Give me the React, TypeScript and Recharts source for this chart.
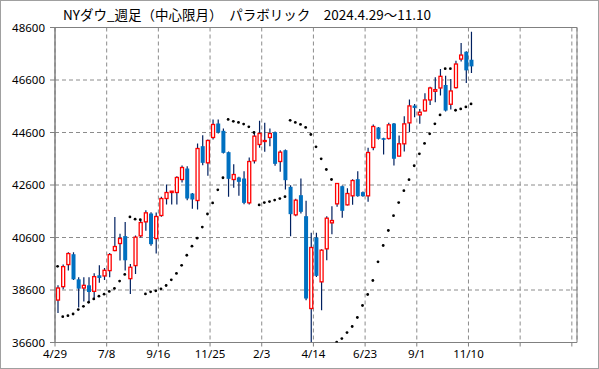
import React from 'react';
import { ComposedChart, Bar, Line, XAxis, YAxis, CartesianGrid, ReferenceArea } from 'recharts';

const opens = [
  38217, 38727, 39568, 39963, 39007, 38676, 38778, 38549, 39160, 39135,
  39339, 40103, 40370, 40653, 39033, 39530, 40663, 41196, 41514, 40561,
  41438, 42085, 42314, 42314, 42809, 43228, 42276, 42009, 44079, 43444,
  44410, 44943, 44664, 43851, 42809, 42886, 42847, 41920, 43521, 44143,
  44257, 44410, 44613, 43495, 43927, 42530, 41463, 42212, 41412, 37894,
  40600, 38910, 40168, 41158, 41882, 42555, 41844, 42187, 42822, 42327,
  42187, 44029, 44791, 44384, 44371, 44943, 43701, 44169, 44967, 45625,
  45271, 45423, 45840, 46170, 46296, 46410, 45676, 46309, 47398, 47676,
  47372,
];
const highs = [
  38778, 39568, 40039, 40039, 39084, 39084, 39084, 39237, 39542, 39440,
  40014, 41377, 40740, 41189, 39593, 40676, 41285, 41641, 41560, 41552,
  42149, 42619, 42365, 42937, 43343, 43317, 42300, 44181, 44498, 44330,
  45095, 45095, 44752, 43880, 43393, 42911, 43127, 43647, 44625, 45044,
  44968, 44752, 44640, 43927, 43952, 42593, 42073, 42847, 42000, 40777,
  40777, 40150, 41412, 41793, 42680, 42580, 42479, 42822, 43127, 42350,
  44016, 44905, 44810, 44400, 44968, 44960, 44486, 45220, 45853, 45688,
  45499, 46094, 46347, 46701, 47018, 46765, 46638, 47334, 48005, 47700,
  48436,
];
const lows = [
  37720, 38625, 39339, 38980, 37937, 38166, 38166, 38294, 38880, 38982,
  39084, 40077, 39721, 39339, 38447, 39211, 40599, 40854, 40282, 39990,
  41387, 41857, 41857, 41857, 42695, 42022, 41692, 41667, 43355, 42949,
  44333, 44562, 43800, 42149, 42492, 42187, 41870, 41857, 43419, 44016,
  43863, 44079, 43330, 43101, 42428, 40650, 41412, 41514, 38212, 36600,
  39100, 37831, 39736, 40727, 41768, 41349, 41819, 41844, 42150, 42150,
  41958, 43927, 44333, 43762, 44330, 43346, 43690, 43878, 44612, 45182,
  44929, 45397, 45651, 45752, 46005, 45400, 45473, 46280, 47309, 46486,
  46866,
];
const closes = [
  38676, 39491, 39988, 39007, 38651, 38778, 38523, 39109, 39058, 39351,
  39950, 40256, 40562, 39732, 39466, 40613, 41171, 41539, 40346, 41400,
  42085, 42314, 42365, 42886, 43266, 42085, 42047, 43990, 43444, 44295,
  44905, 44600, 43825, 42835, 42999, 42720, 41920, 43495, 44460, 44562,
  44295, 44562, 43406, 43851, 42784, 41489, 42022, 41577, 38276, 40219,
  39139, 40117, 41336, 41247, 42657, 41616, 42276, 42771, 42174, 42174,
  43838, 44829, 44359, 44321, 44892, 43600, 44169, 44929, 45613, 45537,
  45372, 45840, 46296, 46233, 46739, 45435, 46182, 47208, 47550, 46967,
  47119,
];
const sarValues = [
  39502, 37585, 37623, 37685, 37853, 37980, 38134, 38260, 38364, 38440,
  38544, 38659, 38939, 39195, 41385, 41300, 41277, 38452, 38529, 38567,
  38644, 38771, 38989, 39233, 39541, 39924, 40269, 40576, 40998, 41496,
  41918, 42417, 42877, 45100, 45024, 44985, 44920, 44818, 44600, 41841,
  41930, 41968, 42024, 42083, 42155, 45062, 44985, 44908, 44793, 44524,
  44054, 43597, 43190, 42809, 36612, 36751, 36980, 37209, 37552, 38009,
  38428, 38961, 39672, 40295, 40866, 41430, 41930, 42384, 42802, 43334,
  43789, 44182, 44549, 44929, 45271, 47030, 47030, 45448, 45499, 45575,
  45688,
];
const xTickLabels = ['4/29', '7/8', '9/16', '11/25', '2/3', '4/14', '6/23', '9/1', '11/10', '', ''];
const xTicks = [0, 10, 20, 30, 40, 50, 60, 70, 80, 90, 100];
const yTicks = [36600, 38600, 40600, 42600, 44600, 46600, 48600];
const TOTAL_SLOTS = 101;

const data = Array.from({ length: TOTAL_SLOTS }, (_, i) => {
  if (i < opens.length) {
    return {
      slot: i,
      range: [lows[i], highs[i]],
      open: opens[i],
      high: highs[i],
      low: lows[i],
      close: closes[i],
      sar: sarValues[i],
    };
  }
  return { slot: i, range: null, open: null, high: null, low: null, close: null, sar: null };
});

const Candle = (props: any) => {
  const { x, y, width, height, payload } = props;
  if (!payload || payload.open == null) return null;
  const { open, close, high, low } = payload;
  const top = Math.min(y, y + height);
  const h = Math.abs(height);
  const span = high - low || 1;
  const toY = (v: number) => top + ((high - v) / span) * h;
  const cx = x + width / 2;
  const up = close >= open;
  const bTop = toY(Math.max(open, close));
  const bBot = toY(Math.min(open, close));
  const bh = Math.max(bBot - bTop, 1);
  return (
    <g>
      <line x1={cx} x2={cx} y1={toY(high)} y2={toY(low)} stroke="#002060" strokeWidth={1.2} />
      {up ? (
        <rect x={x + 0.5} y={bTop} width={width - 1} height={bh} fill="#ffffff" stroke="#ff0000" strokeWidth={1.3} />
      ) : (
        <rect x={x} y={bTop} width={width} height={bh} fill="#0070c0" stroke="none" />
      )}
    </g>
  );
};

const SarDot = (props: any) => {
  const { cx, cy, value, index } = props;
  if (value == null || cx == null || cy == null) return <g key={`d${index}`} />;
  return <circle key={`d${index}`} cx={cx} cy={cy} r={1.4} fill="#000" stroke="none" />;
};

const tickStyle = { fill: '#000', fontSize: 11.5, fontFamily: 'Noto Sans, DejaVu Sans, sans-serif' };

export default function App() {
  return (
    <div style={{ position: 'fixed', left: 0, top: 0, width: 599, height: 369, background: '#fff' }}>
      <ComposedChart
        width={599}
        height={369}
        data={data}
        margin={{ top: 27.5, right: 22, bottom: 0, left: 0 }}
        barCategoryGap={0}
      >
        <CartesianGrid xAxisId="num" yAxisId="y" stroke="#8c8c8c" strokeDasharray="4 3" />
        <XAxis
          xAxisId="num"
          dataKey="slot"
          type="number"
          domain={[0, 101]}
          allowDataOverflow
          ticks={xTicks}
          interval={0}
          tickFormatter={(v: number) => xTickLabels[xTicks.indexOf(v)] ?? ''}
          height={26.5}
          tickSize={4}
          tickMargin={3}
          axisLine={{ stroke: '#808080' }}
          tickLine={{ stroke: '#808080' }}
          tick={tickStyle}
        />
        <XAxis xAxisId="cat" dataKey="slot" type="category" hide height={0} />
        <YAxis
          yAxisId="y"
          domain={[36600, 48600]}
          allowDataOverflow
          ticks={yTicks}
          interval={0}
          width={55}
          tickSize={5}
          tickMargin={5}
          axisLine={{ stroke: '#808080' }}
          tickLine={{ stroke: '#808080' }}
          tick={tickStyle}
        />
        <ReferenceArea
          xAxisId="num"
          yAxisId="y"
          x1={0}
          x2={101}
          y1={36600}
          y2={48600}
          fill="none"
          stroke="#808080"
          strokeWidth={1}
          fillOpacity={0}
        />
        <Bar
          xAxisId="cat"
          yAxisId="y"
          dataKey="range"
          barSize={4}
          shape={Candle}
          isAnimationActive={false}
        />
        <Line
          xAxisId="cat"
          yAxisId="y"
          dataKey="sar"
          stroke="none"
          dot={SarDot}
          activeDot={false}
          connectNulls={false}
          isAnimationActive={false}
        />
      </ComposedChart>
      <div
        style={{
          position: 'absolute',
          left: 63,
          top: 6,
          fontSize: 13.5,
          lineHeight: '16px',
          fontFamily: 'Noto Sans CJK JP, sans-serif',
          color: '#000',
          whiteSpace: 'pre',
        }}
      >
        {'NYダウ_週足（中心限月）　パラボリック　2024.4.29～11.10'}
      </div>
      <div
        style={{
          position: 'absolute',
          left: 0,
          top: 0,
          width: 599,
          height: 369,
          boxSizing: 'border-box',
          border: '1px solid #a0a0a0',
          pointerEvents: 'none',
        }}
      />
    </div>
  );
}
